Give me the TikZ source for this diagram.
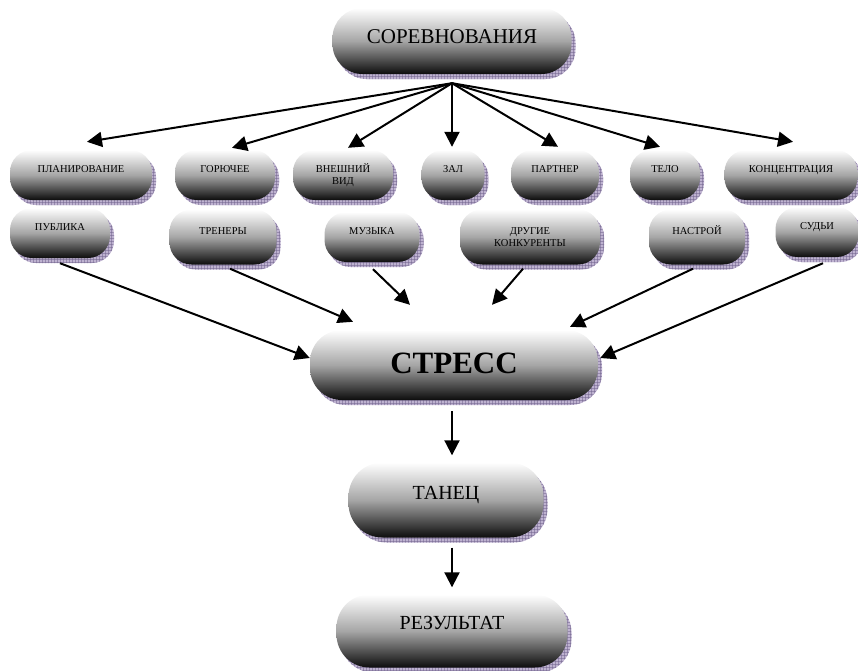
\documentclass[tikz,border=0pt]{standalone}
\usepackage{fontspec}
\setmainfont{Liberation Serif}
\usetikzlibrary{arrows.meta,shadows,patterns}
\definecolor{shadefill}{RGB}{190,178,208}
\definecolor{shadeline}{RGB}{112,98,140}

\begin{document}
\begin{tikzpicture}[x=1pt,y=-1pt,
  pill/.style={rectangle,rounded corners=#1,inner sep=0pt,
    top color=white,bottom color=black!95,middle color=black!35,
    drop shadow={shadow xshift=4pt,shadow yshift=-5pt,opacity=1,fill=shadefill},
    drop shadow={shadow xshift=4pt,shadow yshift=-5pt,opacity=.5,pattern=grid,pattern color=shadeline}},
  pill/.default=22pt,
  small/.style={pill,font=\fontsize{10.5}{12}\selectfont,minimum height=50pt,text height=7pt,text depth=12pt},
  twoline/.style={pill,font=\fontsize{10.5}{12.5}\selectfont,minimum height=50pt,align=center},
  arr/.style={line width=2pt,-{Triangle[length=15pt,width=15pt]}}]
\useasboundingbox (0,0) rectangle (858,670);

% top
\node[pill=30pt,font=\fontsize{21}{24}\selectfont,minimum width=239pt,minimum height=66pt,
  text height=14pt,text depth=10pt] (sor) at (452,41) {СОРЕВНОВАНИЯ};
\coordinate (hub) at ([yshift=-9pt]sor.south);

% first row
\node[small,minimum width=142pt] (plan) at (81,175) {ПЛАНИРОВАНИЕ};
\node[small,minimum width=100pt] (gor) at (225,175) {ГОРЮЧЕЕ};
\node[twoline,minimum width=100pt] (vid) at (343,175) {ВНЕШНИЙ\\ВИД};
\node[small,minimum width=63pt] (zal) at (453,175) {ЗАЛ};
\node[small,minimum width=88pt] (part) at (555,175) {ПАРТНЕР};
\node[small,minimum width=70pt] (telo) at (665,175) {ТЕЛО};
\node[small,minimum width=133pt] (konc) at (791,175) {КОНЦЕНТРАЦИЯ};

% second row
\node[small,minimum width=100pt] (publ) at (60,233) {ПУБЛИКА};
\node[small,minimum width=107pt,minimum height=55pt] (tren) at (223,237) {ТРЕНЕРЫ};
\node[small,minimum width=95pt] (muz) at (372,237) {МУЗЫКА};
\node[twoline,minimum width=140pt,minimum height=55pt] (drug) at (530,237) {ДРУГИЕ\\КОНКУРЕНТЫ};
\node[small,minimum width=96pt,minimum height=55pt] (nastr) at (697,237) {НАСТРОЙ};
\node[small,minimum width=83pt] (sud) at (817,232) {СУДЬИ};

% stress, dance, result
\node[pill=32pt,font=\fontsize{31}{34}\selectfont\bfseries,minimum width=288pt,minimum height=70pt,
  text height=20.5pt,text depth=4pt] (stress) at (454,365) {СТРЕСС};
\node[pill=34pt,font=\fontsize{20}{24}\selectfont,minimum width=195pt,minimum height=75pt,
  text height=13pt,text depth=14pt] (dance) at (446,500) {ТАНЕЦ};
\node[pill=33pt,font=\fontsize{20}{24}\selectfont,minimum width=231pt,minimum height=73pt,
  text height=13pt,text depth=16pt] (result) at (452,631) {РЕЗУЛЬТАТ};

% arrows from the top
\draw[arr] (hub) -- ([xshift=6pt,yshift=8pt]plan.north);
\draw[arr] (hub) -- ([xshift=7pt,yshift=2pt]gor.north);
\draw[arr] (hub) -- ([xshift=5pt,yshift=2pt]vid.north);
\draw[arr] (hub) -- ([xshift=-1pt,yshift=3pt]zal.north);
\draw[arr] (hub) -- ([xshift=3pt,yshift=3pt]part.north);
\draw[arr] (hub) -- ([xshift=-5pt,yshift=3pt]telo.north);
\draw[arr] (hub) -- ([xshift=2pt,yshift=8pt]konc.north);

% arrows into stress
\draw[arr] ([yshift=-5pt]publ.south) -- ([yshift=7pt]stress.west);
\draw[arr] ([xshift=7pt,yshift=-4pt]tren.south) -- ([xshift=-101pt,yshift=8pt]stress.north);
\draw[arr] ([xshift=1pt,yshift=-7pt]muz.south) -- ([xshift=-44pt,yshift=25pt]stress.north);
\draw[arr] ([xshift=-7pt,yshift=-4pt]drug.south) -- ([xshift=38pt,yshift=25pt]stress.north);
\draw[arr] ([xshift=-4pt,yshift=-4pt]nastr.south) -- ([xshift=116pt,yshift=3pt]stress.north);
\draw[arr] ([xshift=6pt,yshift=-6pt]sud.south) -- ([xshift=2pt,yshift=7pt]stress.east);

% chain down
\draw[arr] ([xshift=-2pt,yshift=-11pt]stress.south) -- ([xshift=-2pt,yshift=7pt]stress.south |- dance.north);
\draw[arr] ([xshift=6pt,yshift=-10pt]dance.south) -- ([yshift=7pt]result.north);
\end{tikzpicture}
\end{document}
